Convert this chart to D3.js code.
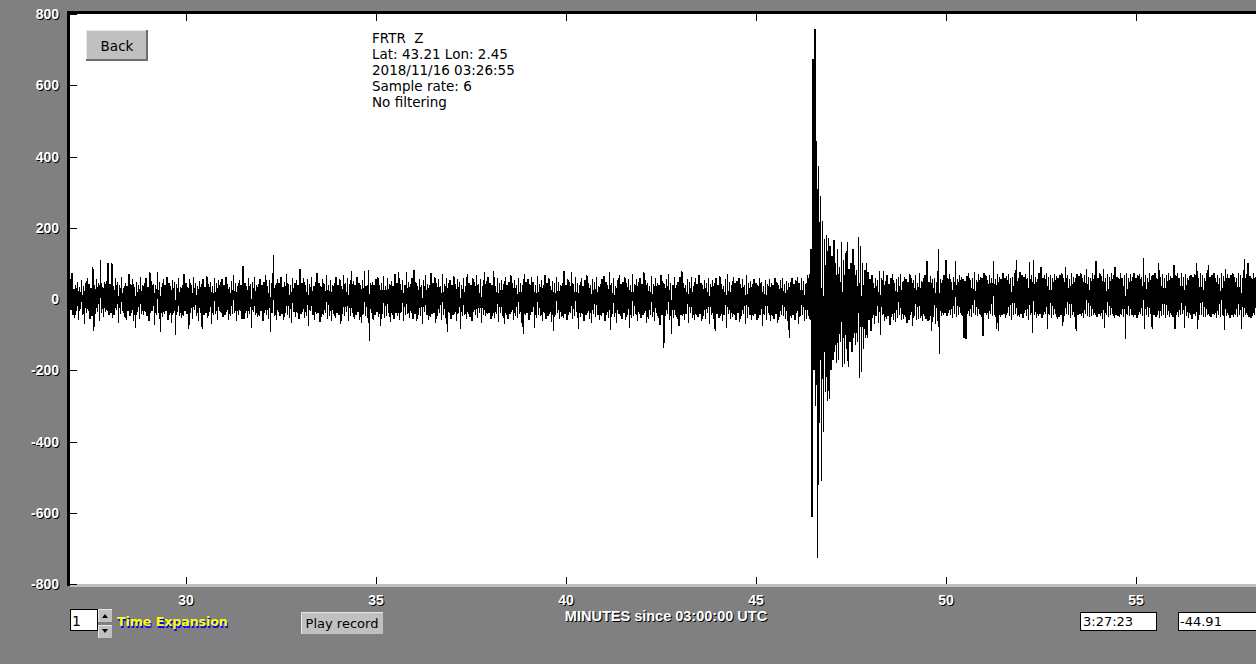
<!DOCTYPE html>
<html><head><meta charset="utf-8">
<script src="https://cdn.jsdelivr.net/npm/d3@7"></script>
<style>
html,body{margin:0;padding:0;background:#808080;overflow:hidden;}
svg{display:block;}
</style></head>
<body>
<svg id="c" width="1256" height="664"></svg>
<script>
// ---------- data ----------
const yTickValues = [-800,-600,-400,-200,0,200,400,600,800];
const xTickValues = [30,35,40,45,50,55];
const infoLines = ["FRTR  Z","Lat: 43.21 Lon: 2.45","2018/11/16 03:26:55","Sample rate: 6","No filtering"];
const xAxisTitle = "MINUTES since 03:00:00 UTC";
const timeExpansion = "1";
const cursorTime = "3:27:23";
const cursorValue = "-44.91";
const traceStart = 26.9;   // minutes
const traceStep = 0.025;   // minutes per value
const trace = [
38,-42,55,-30,73,-45,28,-52,40,-35,47,-60,33,-28,52,-44,36,-70,45,-38,60,-33,42,-55,30,-48,90,-90,38,-41,56,-36,44,-62,110,-40,35,-50,48,-37,
50,-34,100,-45,42,-38,100,-52,36,-44,58,-30,47,-66,39,-41,62,-35,30,-50,45,-58,37,-33,70,-47,41,-39,55,-62,34,-80,48,-36,40,-55,63,-42,38,-46,
44,-37,58,-49,35,-61,76,-40,50,-33,42,-72,39,-45,76,-38,47,-92,33,-50,56,-41,40,-35,62,-58,45,-44,37,-66,52,-39,48,-101,41,-36,59,-47,34,-52,
39,-48,70,-35,46,-42,33,-84,55,-40,38,-57,62,-31,44,-49,36,-63,50,-38,41,-84,57,-45,35,-39,64,-53,42,-36,48,-70,37,-44,59,-41,45,-60,52,-35,
47,-39,56,-50,38,-44,63,-36,42,-58,35,-47,50,-41,66,-38,44,-62,37,-45,53,-34,40,-56,92,-56,45,-40,36,-52,58,-43,41,-80,49,-37,61,-46,39,-51,
43,-48,57,-35,40,-62,48,-39,66,-44,37,-55,52,-92,45,-40,124,-47,38,-60,55,-36,44,-49,61,-42,35,-58,47,-38,70,-45,41,-53,39,-66,58,-37,46,-50,
52,-40,38,-57,84,-43,45,-36,60,-52,39,-48,55,-76,42,-35,63,-46,37,-59,48,-41,72,-38,44,-64,36,-50,57,-45,41,-39,66,-55,40,-47,53,-62,38,-43,
45,-52,61,-38,40,-46,55,-70,37,-42,68,-49,44,-36,58,-63,41,-47,79,-40,50,-55,38,-44,62,-37,46,-58,40,-66,53,-41,79,-48,36,-52,82,-118,45,-39,
48,-60,40,-45,56,-37,62,-50,38,-76,44,-41,65,-53,36,-47,59,-39,42,-64,50,-44,37,-56,70,-40,46,-49,76,-58,41,-36,54,-61,39,-45,76,-42,48,-53,
43,-38,60,-55,80,-41,47,-62,36,-44,57,-48,40,-70,52,-37,66,-45,42,-58,38,-51,73,-43,46,-39,61,-66,44,-47,55,-40,37,-60,69,-45,41,-53,58,-92,
45,-40,52,-57,38,-46,64,-42,41,-63,56,-38,47,-84,40,-49,60,-44,36,-55,71,-41,45,-50,39,-62,58,-37,48,-46,66,-53,42,-40,55,-68,37,-45,76,-48,
50,-43,62,-38,44,-56,40,-47,79,-52,37,-41,59,-65,46,-39,54,-48,41,-70,63,-44,38,-57,49,-42,67,-36,45,-60,52,-47,40,-53,58,-41,44,-66,39,-97,
70,-46,48,-39,56,-58,42,-45,61,-37,47,-80,39,-52,65,-44,41,-49,54,-62,38,-40,68,-55,45,-47,59,-41,37,-64,51,-90,44,-46,62,-39,48,-57,40,-50,
46,-53,79,-41,38,-60,55,-44,49,-39,76,-57,42,-48,63,-36,45,-85,40,-51,58,-43,37,-62,52,-46,66,-40,44,-55,39,-67,57,-42,48,-50,61,-45,36,-58,
42,-47,56,-39,64,-61,48,-44,40,-53,76,-87,45,-41,59,-50,37,-66,53,-43,68,-48,41,-56,47,-38,62,-59,44,-45,55,-80,39,-52,70,-47,43,-41,57,-63,
48,-42,60,-54,41,-46,76,-39,53,-68,45,-57,37,-44,64,-50,42,-61,58,-40,46,-53,39,-72,66,-45,50,-137,43,-48,57,-41,70,-59,44,-98,38,-52,61,-46,
40,-56,47,-75,62,-44,79,-49,45,-60,38,-42,55,-66,48,-40,63,-53,37,-58,59,-45,42,-50,68,-41,46,-62,39,-48,54,-57,44,-39,60,-70,41,-46,52,-55,
45,-90,58,-43,40,-52,64,-47,42,-61,37,-45,55,-80,70,-41,48,-56,39,-50,62,-46,44,-58,51,-39,60,-65,43,-48,57,-42,38,-70,66,-53,45,-44,50,-59,
42,-48,55,-41,46,-60,39,-52,59,-44,48,-75,37,-46,53,-58,41,-40,56,-62,45,-49,38,-55,60,-43,47,-66,40,-51,54,-45,59,-48,42,-57,50,-61,44,-109,
48,-52,60,-45,42,-58,53,-40,62,-70,45,-49,58,-44,50,-63,41,-55,66,-48,70,-60,140,-612,674,-200,758,-300,443,-727,373,-348,289,-511,219,-373,168,-260,180,-286,
170,-280,150,-200,120,-170,165,-150,100,-180,140,-170,90,-120,160,-190,110,-183,130,-140,160,-190,85,-120,100,-150,140,-110,95,-130,80,-120,175,-222,150,-205,100,-140,80,-110,
100,-110,75,-60,55,-90,68,-52,45,-70,60,-48,52,-66,79,-100,58,-45,79,-62,50,-55,66,-47,42,-72,60,-50,70,-58,46,-65,55,-52,63,-44,71,-60,48,-56,
62,-50,55,-68,47,-58,70,-45,60,-75,52,-48,66,-60,45,-57,72,-52,50,-63,58,-47,68,-55,107,-62,49,-58,64,-90,55,-50,60,-70,48,-62,140,-155,57,-48,
52,-45,66,-40,109,-48,58,-38,70,-46,48,-52,63,-42,107,-50,55,-44,68,-38,62,-48,57,-109,50,-112,65,-42,72,-47,54,-50,60,-40,75,-46,52,-49,70,-43,
63,-50,58,-104,72,-40,66,-46,54,-55,68,-42,60,-48,107,-44,57,-85,70,-90,62,-50,56,-46,74,-42,60,-52,65,-40,70,-48,58,-60,63,-44,72,-42,109,-47,
60,-50,75,-42,66,-52,62,-40,70,-47,58,-60,105,-45,68,-95,109,-44,63,-52,57,-48,74,-42,90,-53,60,-46,68,-41,72,-85,62,-44,66,-54,58,-45,70,-42,
64,-55,58,-50,66,-45,72,-75,60,-48,90,-42,68,-46,56,-52,74,-44,62,-50,58,-90,70,-45,64,-42,72,-48,60,-54,68,-41,85,-47,62,-51,58,-48,74,-44,
66,-45,107,-51,60,-42,72,-48,64,-55,85,-80,58,-45,70,-50,62,-46,74,-42,66,-53,90,-44,62,-48,58,-51,72,-46,60,-50,66,-112,74,-45,58,-48,70,-44,
62,-50,74,-44,58,-53,66,-46,70,-42,62,-48,115,-85,68,-45,60,-51,72,-42,64,-85,66,-45,74,-50,58,-46,100,-52,62,-48,70,-44,58,-54,66,-45,72,-50,
64,-44,58,-51,95,-84,66,-45,72,-50,60,-46,74,-42,62,-80,70,-48,58,-53,64,-44,68,-55,62,-42,70,-48,100,-85,58,-46,72,-45,66,-51,60,-50,74,-45,
95,-48,62,-51,68,-42,74,-46,60,-53,66,-45,58,-50,72,-44,64,-87,85,-48,70,-45,58,-54,66,-44,72,-50,62,-46,58,-51,74,-45,66,-85,60,-50,112,-46,
70,-45,100,-50,64,-53,58,-48,74,-44,62
];

// ---------- layout ----------
const W = 1256, H = 664;
const plot = {left: 70, top: 14, right: 1256, bottom: 584};
const svg = d3.select("#c");

const x = d3.scaleLinear().domain([30, 55]).range([186, 1136]);
const y = d3.scaleLinear().domain([-800, 800]).range([plot.bottom, plot.top]);

// background
svg.append("rect").attr("width", W).attr("height", H).attr("fill", "#808080");
// plot area
svg.append("rect").attr("x", plot.left).attr("y", plot.top)
  .attr("width", plot.right - plot.left).attr("height", plot.bottom - plot.top).attr("fill", "#ffffff");
// borders
svg.append("rect").attr("x", 67).attr("y", 11).attr("width", W - 67).attr("height", 3).attr("fill", "#000");
svg.append("rect").attr("x", 67).attr("y", 11).attr("width", 3).attr("height", plot.bottom - 11 + 2).attr("fill", "#000");
svg.append("rect").attr("x", 70).attr("y", plot.bottom).attr("width", W - 70).attr("height", 3).attr("fill", "#c0c0c0");

svg.append("clipPath").attr("id", "clip").append("rect")
  .attr("x", plot.left).attr("y", plot.top).attr("width", plot.right - plot.left).attr("height", plot.bottom - plot.top);

// trace
const line = d3.line().x((d, i) => x(traceStart + i * traceStep)).y(d => y(d));
svg.append("path").datum(trace).attr("clip-path", "url(#clip)")
  .attr("d", line).attr("fill", "none").attr("stroke", "#000").attr("stroke-width", 1.2)
  .attr("shape-rendering", "crispEdges")
  .attr("stroke-linejoin", "miter").attr("stroke-miterlimit", 1);

// axes (ticks only)
const yAx = svg.append("g").attr("transform", `translate(${plot.left},0)`)
  .call(d3.axisRight(y).tickValues(yTickValues).tickSize(7).tickFormat(""));
const xAxB = svg.append("g").attr("transform", `translate(0,${plot.bottom})`)
  .call(d3.axisTop(x).tickValues(xTickValues).tickSize(7).tickFormat(""));
const xAxT = svg.append("g").attr("transform", `translate(0,${plot.top})`)
  .call(d3.axisBottom(x).tickValues(xTickValues).tickSize(7).tickFormat(""));
[yAx, xAxB, xAxT].forEach(g => {
  g.select(".domain").remove();
  g.selectAll(".tick line").attr("stroke", "#000").attr("stroke-width", 1).attr("shape-rendering", "crispEdges");
});

// embossed text helper
function emboss(parent, txt, tx, ty, anchor, size, fg, bg, dx, dy, family, weight) {
  const g = parent.append("g");
  [[bg, dx, dy], [fg, 0, 0]].forEach(([col, ox, oy]) => {
    g.append("text").attr("x", tx + ox).attr("y", ty + oy).attr("text-anchor", anchor)
      .attr("font-family", family).attr("font-size", size).attr("font-weight", weight)
      .attr("fill", col).style("white-space", "pre").text(txt);
  });
  return g;
}
const LB = "'Liberation Sans', Arial, sans-serif";
const DV = "'DejaVu Sans', sans-serif";

yTickValues.forEach(v => emboss(svg, String(v), 59, y(v) + 5, "end", 14, "#fff", "#000", 1, 1, LB, "bold"));
xTickValues.forEach(v => emboss(svg, String(v), x(v), 605, "middle", 14, "#fff", "#000", 1, 1, LB, "bold"));
emboss(svg, xAxisTitle, 666, 621, "middle", 14.5, "#fff", "#000", 1, 1, LB, "bold");

// info text
svg.append("g").selectAll("text").data(infoLines).join("text")
  .attr("x", 372).attr("y", (d, i) => 43 + i * 16)
  .attr("font-family", DV).attr("font-size", 13.5).attr("fill", "#000")
  .style("white-space", "pre").text(d => d);

// button helper
function button(bx, by, bw, bh, label, fs, shadow) {
  const g = svg.append("g");
  g.append("rect").attr("x", bx).attr("y", by).attr("width", bw).attr("height", bh).attr("fill", "#c0c0c0");
  g.append("path").attr("d", `M${bx + 0.5},${by + bh}V${by + 0.5}H${bx + bw}`).attr("stroke", "#e8e8e8").attr("fill", "none");
  if (shadow) {
    g.append("path").attr("d", `M${bx},${by + bh - 1}H${bx + bw - 1}V${by}`).attr("stroke", "#6e6e6e").attr("stroke-width", 2).attr("fill", "none");
  }
  if (label) g.append("text").attr("x", bx + bw / 2).attr("y", by + bh / 2 + 5).attr("text-anchor", "middle")
    .attr("font-family", DV).attr("font-size", fs).attr("fill", "#000").text(label);
  return g;
}
button(86, 30, 62, 31, "Back", 13.5, true);
button(301, 612, 82, 22, "Play record", 13, false);

// time expansion box + spinner
svg.append("rect").attr("x", 70.5).attr("y", 609.5).attr("width", 27).attr("height", 21)
  .attr("fill", "#fff").attr("stroke", "#000");
svg.append("text").attr("x", 72).attr("y", 626).attr("font-family", DV).attr("font-size", 14).attr("fill", "#000").text(timeExpansion);
button(98, 609, 14, 13, "", 0, false);
button(98, 625, 14, 13, "", 0, false);
svg.append("path").attr("d", "M102,618L105,614L108,618Z").attr("fill", "#000");
svg.append("path").attr("d", "M102,629L105,633L108,629Z").attr("fill", "#000");
emboss(svg, "Time Expansion", 117, 626, "start", 12.5, "#ffff00", "#0000ff", 1, 2, DV, "bold");

// cursor readout boxes
svg.append("rect").attr("x", 1080.5).attr("y", 612.5).attr("width", 76).attr("height", 18).attr("fill", "#fff").attr("stroke", "#000");
svg.append("text").attr("x", 1083).attr("y", 626).attr("font-family", DV).attr("font-size", 13).attr("fill", "#000").text(cursorTime);
svg.append("rect").attr("x", 1178.5).attr("y", 612.5).attr("width", 90).attr("height", 18).attr("fill", "#fff").attr("stroke", "#000");
svg.append("text").attr("x", 1180).attr("y", 626).attr("font-family", DV).attr("font-size", 13).attr("fill", "#000").text(cursorValue);
</script>
</body></html>
